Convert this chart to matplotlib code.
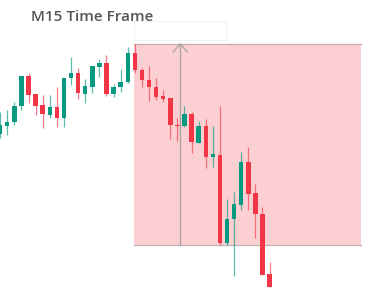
#!/usr/bin/env python3
# -*- coding: utf-8 -*-
"""
M15 candlestick snapshot with a shaded short-position zone.
Writes out.png (375x302 px).
"""

import matplotlib
matplotlib.use("Agg")
import matplotlib.pyplot as plt
from matplotlib.patches import Rectangle

# --- data: 15-minute candles (price in chart points) -------------------------
opens = [166, 174, 178, 194, 224, 206, 195, 185, 193, 182,
         222, 227, 206, 213, 233, 237, 206, 213, 218, 247,
         230, 220, 213, 204, 202, 175, 174, 186, 157, 174,
         143, 145, 57, 81, 95, 138, 107, 86, 26]
closes = [175, 178, 194, 224, 205, 194, 186, 193, 182, 222,
          227, 207, 214, 234, 237, 206, 213, 218, 247, 230,
          220, 213, 203, 201, 175, 174, 186, 158, 174, 143,
          146, 57, 81, 96, 138, 106, 86, 25, 13]
highs = [188, 190, 198, 224, 227, 206, 205, 205, 213, 222,
         243, 232, 221, 234, 241, 245, 216, 231, 253, 256,
         232, 234, 222, 210, 202, 182, 194, 188, 179, 181,
         174, 194, 101, 108, 148, 153, 116, 93, 38]
lows = [162, 165, 175, 190, 197, 185, 172, 182, 173, 173,
        215, 201, 197, 207, 223, 204, 203, 208, 217, 227,
        213, 199, 200, 198, 161, 159, 173, 147, 157, 132,
        133, 55, 55, 24, 90, 90, 62, 25, 13]

# shaded trade zone (index range and price range)
zone_start, zone_end = 18.85, 50.9
zone_top, zone_bottom = 256, 55
marker_x = 25.4

title = "M15 Time Frame"

GREEN = "#089981"
RED = "#F23645"

fig = plt.figure(figsize=(3.75, 3.02), dpi=100)
ax = fig.add_axes([0, 0, 1, 1])
ax.set_xlim(-0.02, 52.87)
ax.set_ylim(-2, 300)
ax.axis("off")

# trade zone
ax.add_patch(Rectangle((zone_start, zone_bottom), zone_end - zone_start,
                       zone_top - zone_bottom, facecolor="#FCD0D3",
                       edgecolor="none", zorder=1))
ax.plot([zone_start, zone_end], [zone_top, zone_top], color="#c8a9ab", lw=0.9, zorder=1.5)
ax.plot([zone_start, zone_end], [zone_bottom, zone_bottom], color="#bcb4b5", lw=0.9, zorder=1.5)
ax.plot([marker_x, marker_x], [zone_bottom, zone_top], color="#a9a2a3", lw=0.9, zorder=1.5)
ax.plot([marker_x - 1.0, marker_x, marker_x + 1.0],
        [zone_top - 8, zone_top, zone_top - 8], color="#a9a2a3", lw=0.9, zorder=1.5)

# faint label box above the zone
ax.add_patch(Rectangle((zone_start, 260), 13.0, 19, facecolor="white",
                       edgecolor="#f1f1f1", lw=0.8, zorder=1))

# candles
body_w = 0.63
for i, (o, c, h, l) in enumerate(zip(opens, closes, highs, lows)):
    col = GREEN if c >= o else RED
    ax.plot([i, i], [l, h], color=col, lw=0.9, alpha=0.65, zorder=2,
            solid_capstyle="butt")
    lo, hi = min(o, c), max(o, c)
    ax.add_patch(Rectangle((i - body_w / 2, lo), body_w, max(hi - lo, 1.2),
                           facecolor=col, edgecolor="none", zorder=3))

fig.text(92 / 375, 1 - 17 / 302, title, ha="center", va="center",
         fontsize=11, fontweight="semibold", family=["Open Sans", "DejaVu Sans"],
         color="#555555")

fig.savefig("out.png", dpi=100)
